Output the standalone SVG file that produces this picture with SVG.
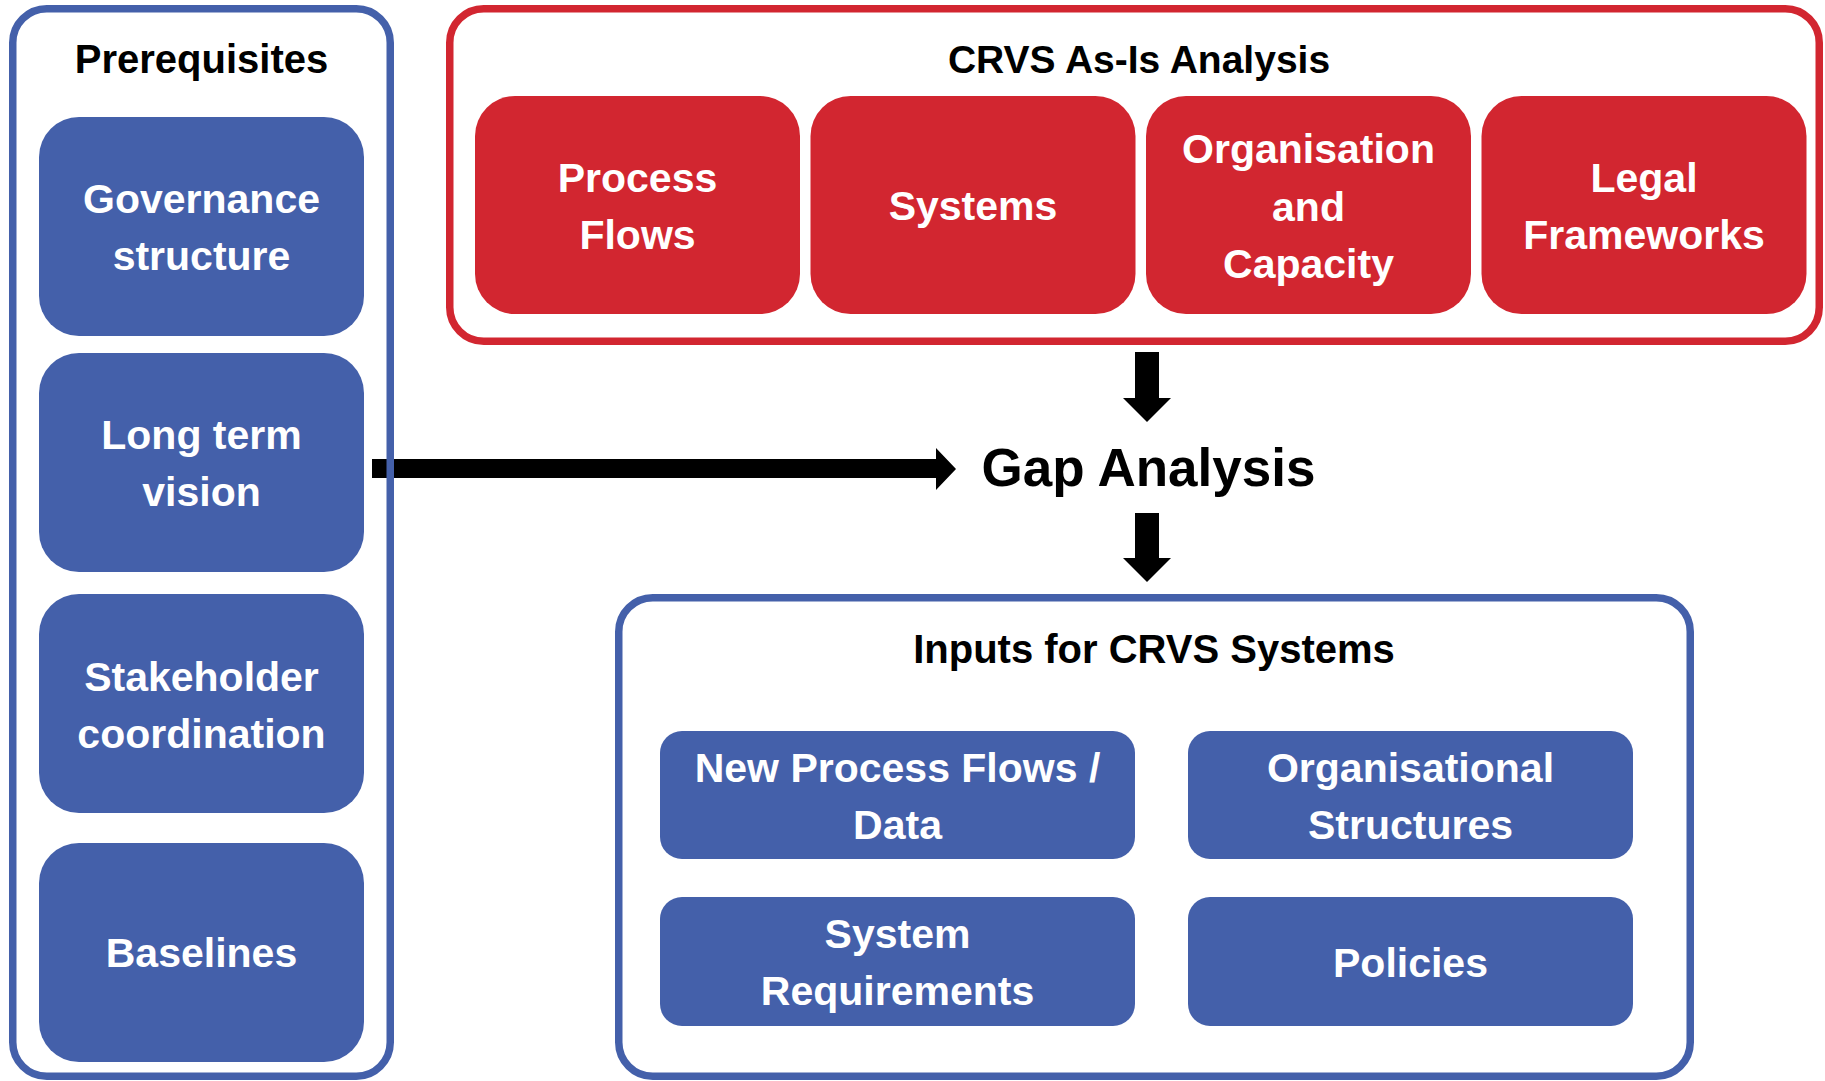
<svg xmlns="http://www.w3.org/2000/svg" width="1825" height="1081" viewBox="0 0 1825 1081">
  <style>
    .bg { fill: #FFFFFF; }
    .cont-blue { fill: none; stroke: #4460AA; stroke-width: 7.5; }
    .cont-red { fill: none; stroke: #D22630; stroke-width: 7.5; }
    .box-blue { fill: #4460AA; }
    .box-red { fill: #D22630; }
    .arrow { fill: #000000; }
    text { font-family: "Liberation Sans", Arial, sans-serif; font-weight: bold; text-anchor: middle; }
    .head { font-size: 40px; fill: #000000; }
    .lbl { font-size: 41px; fill: #FFFFFF; }
    .gap { font-size: 53px; fill: #000000; }
  </style>
  <rect class="bg" x="0" y="0" width="1825" height="1081"/>

  <g id="connectors">
    <polygon class="arrow" points="1135,352 1159,352 1159,398 1171,398 1147,422 1123,398 1135,398"/>
    <polygon class="arrow" points="1135,513 1159,513 1159,558 1171,558 1147,582 1123,558 1135,558"/>
    <polygon class="arrow" points="372,459 936,459 936,448 956,469 936,490 936,478 372,478"/>
  </g>

  <g id="prerequisites">
    <rect class="cont-blue" x="12.75" y="8.75" width="377.5" height="1067.5" rx="34"/>
    <text class="head" x="201.5" y="73">Prerequisites</text>
  </g>
  <g id="governance-structure">
    <rect class="box-blue" x="39" y="117" width="325" height="219" rx="40"/>
    <text class="lbl" x="201.5" y="213">Governance</text>
    <text class="lbl" x="201.5" y="270">structure</text>
  </g>
  <g id="long-term-vision">
    <rect class="box-blue" x="39" y="353" width="325" height="219" rx="40"/>
    <text class="lbl" x="201.5" y="449">Long term</text>
    <text class="lbl" x="201.5" y="506">vision</text>
  </g>
  <g id="stakeholder-coordination">
    <rect class="box-blue" x="39" y="594" width="325" height="219" rx="40"/>
    <text class="lbl" x="201.5" y="691">Stakeholder</text>
    <text class="lbl" x="201.5" y="748">coordination</text>
  </g>
  <g id="baselines">
    <rect class="box-blue" x="39" y="843" width="325" height="219" rx="40"/>
    <text class="lbl" x="201.5" y="967">Baselines</text>
  </g>

  <g id="crvs-as-is-analysis">
    <rect class="cont-red" x="449.75" y="8.75" width="1369.5" height="332.5" rx="34"/>
    <text class="head" x="1139" y="73" style="font-size:39px">CRVS As-Is Analysis</text>
  </g>
  <g id="process-flows">
    <rect class="box-red" x="475" y="96" width="325" height="218" rx="40"/>
    <text class="lbl" x="637.5" y="192">Process</text>
    <text class="lbl" x="637.5" y="249">Flows</text>
  </g>
  <g id="systems">
    <rect class="box-red" x="810.5" y="96" width="325" height="218" rx="40"/>
    <text class="lbl" x="973" y="220">Systems</text>
  </g>
  <g id="organisation-capacity">
    <rect class="box-red" x="1146" y="96" width="325" height="218" rx="40"/>
    <text class="lbl" x="1308.5" y="163">Organisation</text>
    <text class="lbl" x="1308.5" y="221">and</text>
    <text class="lbl" x="1308.5" y="278">Capacity</text>
  </g>
  <g id="legal-frameworks">
    <rect class="box-red" x="1481.5" y="96" width="325" height="218" rx="40"/>
    <text class="lbl" x="1644" y="192">Legal</text>
    <text class="lbl" x="1644" y="249">Frameworks</text>
  </g>

  <g id="gap-analysis">
    <text class="gap" x="1148.5" y="486">Gap Analysis</text>
  </g>

  <g id="inputs-crvs-systems">
    <rect class="cont-blue" x="618.75" y="597.75" width="1071.5" height="478.5" rx="34"/>
    <text class="head" x="1154" y="663">Inputs for CRVS Systems</text>
  </g>
  <g id="new-process-flows-data">
    <rect class="box-blue" x="660" y="731" width="475" height="128" rx="22"/>
    <text class="lbl" x="897.5" y="782">New Process Flows /</text>
    <text class="lbl" x="897.5" y="839">Data</text>
  </g>
  <g id="organisational-structures">
    <rect class="box-blue" x="1188" y="731" width="445" height="128" rx="22"/>
    <text class="lbl" x="1410.5" y="782">Organisational</text>
    <text class="lbl" x="1410.5" y="839">Structures</text>
  </g>
  <g id="system-requirements">
    <rect class="box-blue" x="660" y="897" width="475" height="129" rx="22"/>
    <text class="lbl" x="897.5" y="948">System</text>
    <text class="lbl" x="897.5" y="1005">Requirements</text>
  </g>
  <g id="policies">
    <rect class="box-blue" x="1188" y="897" width="445" height="129" rx="22"/>
    <text class="lbl" x="1410.5" y="977">Policies</text>
  </g>
</svg>
